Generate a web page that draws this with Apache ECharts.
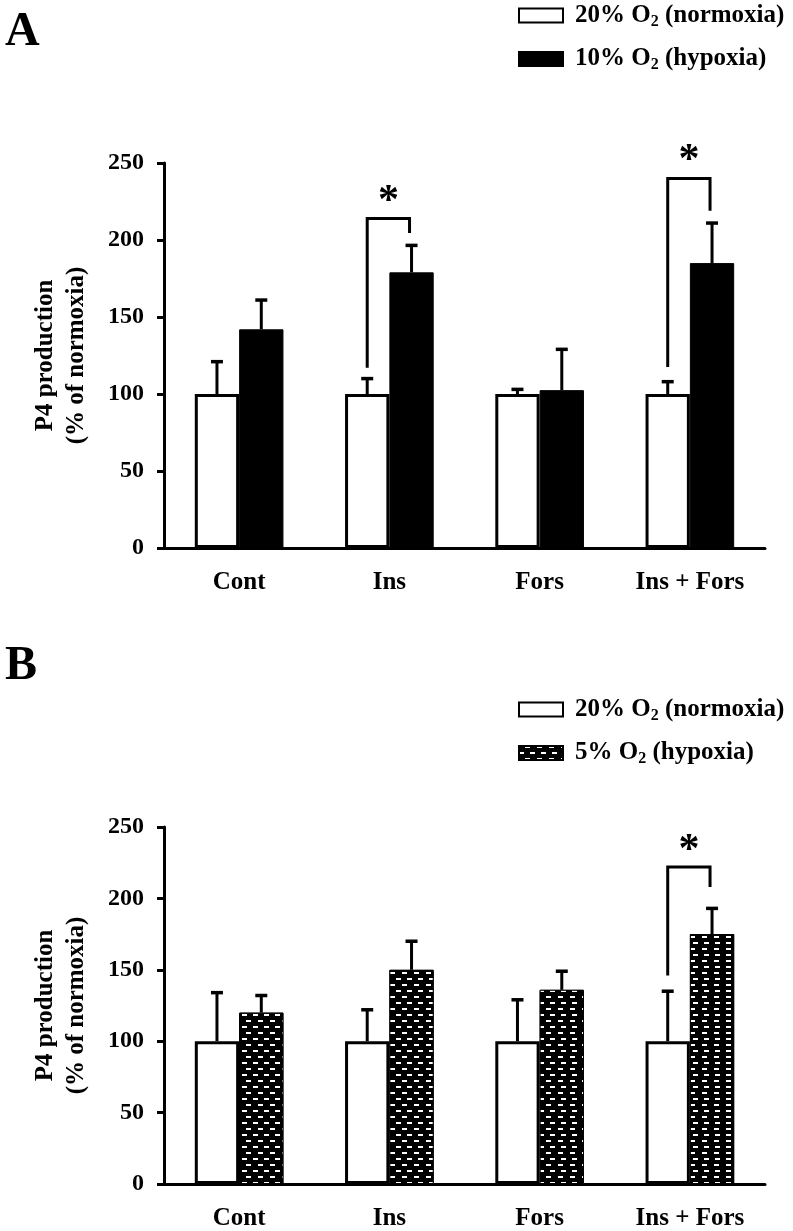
<!DOCTYPE html>
<html>
<head>
<meta charset="utf-8">
<script src="https://cdn.jsdelivr.net/npm/echarts@6/dist/echarts.min.js"></script>
<style>html,body{margin:0;padding:0;background:#fff}#c{width:793px;height:1231px}</style>
</head>
<body>
<div id="c"></div>
<script>
// ---- data ----
const categories = ['Cont', 'Ins', 'Fors', 'Ins + Fors'];
const yTicks = [0, 50, 100, 150, 200, 250];

// Panel A
const normA = [100, 100, 100, 100];
const normAErr = [21, 10, 3, 8];
const hypoA = [142, 179, 102.5, 185];
const hypoAErr = [19, 17.5, 26.5, 26];
// significance brackets: [category, left leg bottom, bracket top, right leg bottom, star]
const bracketA = [[1, 117, 214, 204.5, 229], [3, 117.5, 240, 219, 256]];

// Panel B
const normB = [100, 100, 100, 100];
const normBErr = [34, 22, 29, 35];
const hypoB = [120, 150, 136, 175];
const hypoBErr = [12, 20, 13, 18];
const bracketB = [[3, 146, 222, 208, 238]];

const legendA = ['20% O{sub|2} (normoxia)', '10% O{sub|2} (hypoxia)'];
const legendB = ['20% O{sub|2} (normoxia)', '5% O{sub|2} (hypoxia)'];

// ---- styling ----
const FONT = 'Liberation Serif';
const GAP = 0.41;
const bold = { fontFamily: FONT, fontWeight: 'bold', color: '#000' };

function errSeries(g, means, errs, side) {
  return {
    type: 'custom', xAxisIndex: g, yAxisIndex: g, z: 3, silent: true,
    data: means.map((m, i) => [i, m, m + errs[i]]),
    renderItem: (params, api) => {
      const band = api.size([1, 0])[0];
      const bw = band * (1 - GAP) / 2;
      const p0 = api.coord([api.value(0), api.value(1)]);
      const p1 = api.coord([api.value(0), api.value(2)]);
      const x = p0[0] + side * bw / 2;
      return {
        type: 'group', children: [
          { type: 'line', shape: { x1: x, y1: p0[1], x2: x, y2: p1[1] }, style: { stroke: '#000', lineWidth: 3 } },
          { type: 'line', shape: { x1: x - 6, y1: p1[1], x2: x + 6, y2: p1[1] }, style: { stroke: '#000', lineWidth: 3.5 } }
        ]
      };
    }
  };
}

function bracketSeries(g, data) {
  return {
    type: 'custom', xAxisIndex: g, yAxisIndex: g, z: 4, silent: true, clip: false,
    data: data,
    renderItem: (params, api) => {
      const band = api.size([1, 0])[0];
      const bw = band * (1 - GAP) / 2;
      const c = api.coord([api.value(0), 0])[0];
      const xl = c - bw / 2, xr = c + bw / 2 - 2;
      const yl = api.coord([api.value(0), api.value(1)])[1];
      const yt = api.coord([api.value(0), api.value(2)])[1];
      const yr = api.coord([api.value(0), api.value(3)])[1];
      const ys = api.coord([api.value(0), api.value(4)])[1];
      return {
        type: 'group', children: [
          { type: 'polyline', shape: { points: [[xl, yl], [xl, yt], [xr, yt], [xr, yr]] }, style: { stroke: '#000', lineWidth: 3, fill: null } },
          { type: 'text', x: (xl + xr) / 2, y: ys + 7, style: { text: '*', font: 'bold 42px "Liberation Serif"', fill: '#000', textAlign: 'center', textVerticalAlign: 'middle' } }
        ]
      };
    }
  };
}

const decal = {
  symbol: 'rect', symbolSize: 1, color: '#ffffff',
  dashArrayX: [[5, 6], [0, 5.5, 5, 0.5]],
  dashArrayY: [2, 3.2], rotation: 0
};

function yAxis(g) {
  return {
    gridIndex: g, type: 'value', min: 0, max: 250, interval: 50,
    name: 'P4 production\n(% of normoxia)', nameLocation: 'middle', nameRotate: 90, nameGap: 72,
    nameTextStyle: Object.assign({ fontSize: 25, lineHeight: 31, align: 'center' }, bold),
    axisLine: { show: true, lineStyle: { color: '#000', width: 3 } },
    axisTick: { show: true, length: 7, lineStyle: { color: '#000', width: 3 } },
    axisLabel: Object.assign({ fontSize: 24, margin: 20, formatter: v => yTicks.includes(v) ? String(v) : '' }, bold),
    splitLine: { show: false }
  };
}
function xAxis(g) {
  return {
    gridIndex: g, type: 'category', data: categories,
    axisLine: { show: true, lineStyle: { color: '#000', width: 3 } },
    axisTick: { show: false },
    axisLabel: Object.assign({ fontSize: 25, margin: 22 }, bold)
  };
}
const legendText = Object.assign({ fontSize: 25, padding: [0, 0, 0, 7],
  rich: { sub: { fontFamily: FONT, fontWeight: 'bold', fontSize: 16, verticalAlign: 'bottom', padding: [12, 0, 0, 0] } } }, bold);

const chart = echarts.init(document.getElementById('c'), null, { renderer: 'canvas' });
chart.setOption({
  animation: false,
  backgroundColor: '#fff',
  title: [
    { text: 'A', left: 0, top: 4, textStyle: Object.assign({ fontSize: 48 }, bold) },
    { text: 'B', left: 0, top: 638, textStyle: Object.assign({ fontSize: 48 }, bold) }
  ],
  legend: [
    { orient: 'vertical', left: 518, top: 3, padding: 0, itemWidth: 44, itemHeight: 14, itemGap: 17, icon: 'rect',
      data: ['A0', 'A1'], formatter: n => n === 'A0' ? legendA[0] : legendA[1], textStyle: legendText },
    { orient: 'vertical', left: 518, top: 697, padding: 0, itemWidth: 44, itemHeight: 14, itemGap: 17, icon: 'rect',
      data: ['B0', 'B1'], formatter: n => n === 'B0' ? legendB[0] : legendB[1], textStyle: legendText }
  ],
  grid: [
    { left: 164, right: 28, top: 163, bottom: 1231 - 548 },
    { left: 164, right: 28, top: 827, bottom: 1231 - 1187 }
  ],
  xAxis: [xAxis(0), xAxis(1)],
  yAxis: [yAxis(0), yAxis(1)],
  series: [
    { name: 'A0', type: 'bar', xAxisIndex: 0, yAxisIndex: 0, data: normA, barGap: '0%', barCategoryGap: (GAP * 100) + '%',
      itemStyle: { color: '#fff', borderColor: '#000', borderWidth: 3 } },
    { name: 'A1', type: 'bar', xAxisIndex: 0, yAxisIndex: 0, data: hypoA, barGap: '0%', barCategoryGap: (GAP * 100) + '%',
      itemStyle: { color: '#000', borderColor: '#000', borderWidth: 1 } },
    errSeries(0, normA, normAErr, -1),
    errSeries(0, hypoA, hypoAErr, 1),
    bracketSeries(0, bracketA),
    { name: 'B0', type: 'bar', xAxisIndex: 1, yAxisIndex: 1, data: normB, barGap: '0%', barCategoryGap: (GAP * 100) + '%',
      itemStyle: { color: '#fff', borderColor: '#000', borderWidth: 3 } },
    { name: 'B1', type: 'bar', xAxisIndex: 1, yAxisIndex: 1, data: hypoB, barGap: '0%', barCategoryGap: (GAP * 100) + '%',
      itemStyle: { color: '#000', borderColor: '#000', borderWidth: 1, decal: decal } },
    errSeries(1, normB, normBErr, -1),
    errSeries(1, hypoB, hypoBErr, 1),
    bracketSeries(1, bracketB)
  ]
});
</script>
</body>
</html>
